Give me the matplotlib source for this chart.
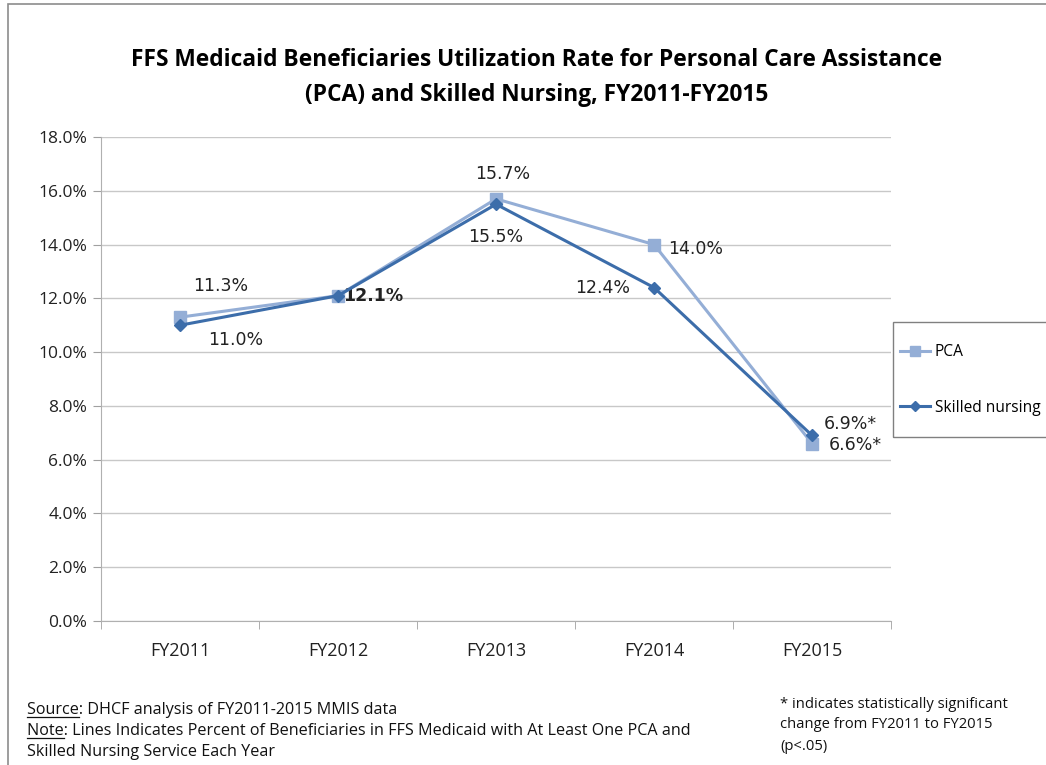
import numpy as np
import matplotlib.pyplot as plt
from matplotlib.lines import Line2D
from matplotlib.patches import Rectangle

# Utilization rates (%) by fiscal year
years = ["FY2011", "FY2012", "FY2013", "FY2014", "FY2015"]
pca = [11.3, 12.1, 15.7, 14.0, 6.6]
skilled = [11.0, 12.1, 15.5, 12.4, 6.9]
pca_labels = ["11.3%", "12.1%", "15.7%", "14.0%", "6.6%*"]
skilled_labels = ["11.0%", "12.1%", "15.5%", "12.4%", "6.9%*"]

pca_color = "#94AED6"
sn_color = "#3C6DAA"
grid_color = "#C8C8C8"
ui_font = "Open Sans"

fig = plt.figure(figsize=(10.46, 7.65), dpi=100)
ax = fig.add_axes([0.0966, 0.1882, 0.7553, 0.6327])

x = np.arange(len(years))
ax.plot(x, pca, color=pca_color, lw=2.2, marker="s", ms=9, label="PCA", zorder=3)
ax.plot(x, skilled, color=sn_color, lw=2.2, marker="D", ms=6.5,
        label="Skilled nursing", zorder=4)

# data labels (offsets in pixels); the two FY2012 labels sit on top of each other
pca_off = [(41, 31), (35, 0), (7, 25), (42, -4), (43, -1)]
sn_off = [(56, -15), (35, 0), (0, -33), (-51, 0), (38, 11)]
for i in range(len(years)):
    same = pca_labels[i] == skilled_labels[i]
    ax.annotate(pca_labels[i], (x[i], pca[i]), xytext=pca_off[i],
                textcoords="offset pixels", ha="center", va="center",
                fontsize=12.5, color="#222222", family="DejaVu Sans",
                fontweight="bold" if same else "normal")
    if same:
        continue
    ax.annotate(skilled_labels[i], (x[i], skilled[i]), xytext=sn_off[i],
                textcoords="offset pixels", ha="center", va="center",
                fontsize=12.5, color="#222222", family="DejaVu Sans")

ax.set_xlim(-0.5, 4.5)
ax.set_ylim(0, 18)
ax.set_yticks(np.arange(0, 18.1, 2))
ax.set_yticklabels([f"{v:.1f}%" for v in np.arange(0, 18.1, 2)],
                   fontsize=12.5, family=ui_font, color="#222222")
ax.set_xticks(x)
ax.set_xticklabels(years, fontsize=13, family=ui_font, color="#222222")
ax.set_xticks(np.arange(-0.5, 4.6, 1), minor=True)
ax.tick_params(axis="x", which="major", length=0, pad=15)
ax.tick_params(axis="x", which="minor", length=6, color="#A0A0A0")
ax.tick_params(axis="y", length=6, color="#A0A0A0", pad=4)

ax.grid(axis="y", color=grid_color, lw=1)
ax.set_axisbelow(True)
for side in ["top", "right"]:
    ax.spines[side].set_visible(False)
ax.spines["left"].set_color("#B0B0B0")
ax.spines["bottom"].set_color("#B0B0B0")

fig.text(0.513, 0.921, "FFS Medicaid Beneficiaries Utilization Rate for Personal Care Assistance",
         ha="center", va="center", fontsize=16.4, fontweight="bold", family=ui_font)
fig.text(0.513, 0.876, "(PCA) and Skilled Nursing, FY2011-FY2015",
         ha="center", va="center", fontsize=16.4, fontweight="bold", family=ui_font)

# legend entries without frame, box drawn separately so it can run off the right edge
leg = fig.legend(loc="upper left", bbox_to_anchor=(900 / 1046, 1 - 344 / 765),
                 frameon=False, prop={"family": ui_font, "size": 11.2},
                 handlelength=1.95, handletextpad=0.3, labelspacing=2.55,
                 borderpad=0, borderaxespad=0, markerscale=0.75)
fig.add_artist(Rectangle((893 / 1046, 1 - 437 / 765), 0.2, 115 / 765,
                         transform=fig.transFigure, fill=False,
                         edgecolor="#808080", lw=1))

# footer notes
foot = dict(fontsize=11.6, family=ui_font, color="#111111", va="center")
side = dict(fontsize=10.6, family=ui_font, color="#111111", va="center")
fig.text(27 / 1046, 1 - 710 / 765, "Source: DHCF analysis of FY2011-2015 MMIS data", **foot)
fig.text(27 / 1046, 1 - 731 / 765,
         "Note: Lines Indicates Percent of Beneficiaries in FFS Medicaid with At Least One PCA and", **foot)
fig.text(27 / 1046, 1 - 752 / 765, "Skilled Nursing Service Each Year", **foot)
fig.text(780 / 1046, 1 - 705 / 765, "* indicates statistically significant", **side)
fig.text(780 / 1046, 1 - 725 / 765, "change from FY2011 to FY2015", **side)
fig.text(780 / 1046, 1 - 746 / 765, "(p<.05)", **side)

# underline the "Source" and "Note" words
fig.canvas.draw()
renderer = fig.canvas.get_renderer()
for word, ypix in [("Source", 710), ("Note", 731)]:
    t = fig.text(27 / 1046, 1 - ypix / 765, word, **foot)
    t.set_alpha(0)
    bb = t.get_window_extent(renderer)
    yline = (bb.y0 + 1) / fig.bbox.height
    fig.add_artist(Line2D([bb.x0 / fig.bbox.width, bb.x1 / fig.bbox.width], [yline, yline],
                          color="#111111", lw=0.9))

# outer chart border
fig.add_artist(Rectangle((8 / 1046, -0.01), 1.1, 1 - 4 / 765 + 0.01,
                         transform=fig.transFigure, fill=False,
                         edgecolor="#8C8C8C", lw=1.2))

fig.savefig("out.png", dpi=100)
